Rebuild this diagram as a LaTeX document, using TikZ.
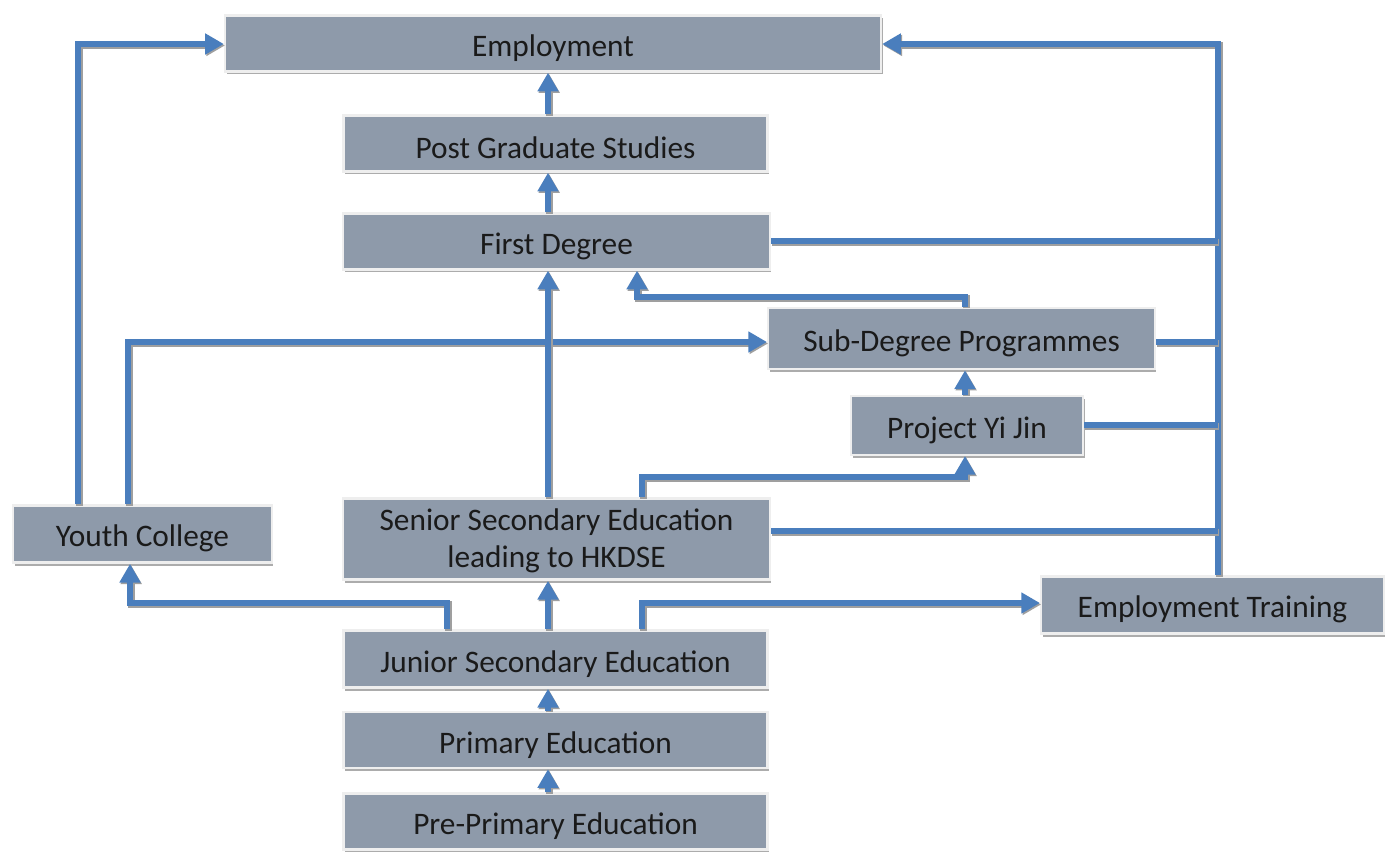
\documentclass[tikz,border=0pt]{standalone}
\usepackage{fontspec}
\setmainfont{Carlito}
\usetikzlibrary{arrows.meta,calc}
\definecolor{boxfill}{HTML}{8E9AAA}
\definecolor{boxedge}{HTML}{EEEEEE}
\definecolor{arrblue}{HTML}{4A7EBD}
\definecolor{txt}{HTML}{1A1A1A}
\newcommand{\lowtxt}[1]{\raisebox{-3.5pt}[\height][\depth]{#1}}
\begin{document}
\begin{tikzpicture}[x=0.75pt,y=-0.75pt,
  box/.style={fill=boxfill,draw=boxedge,line width=1.8pt,text=txt,font=\fontsize{23.5}{26.5}\selectfont,
     align=center,inner sep=0pt,
     preaction={fill=gray!65,transform canvas={shift={(1.2pt,-2.2pt)}}}},
  link/.style={draw=arrblue,line width=5.2pt,
     preaction={draw=gray!75,line width=5.2pt,transform canvas={shift={(0.9pt,-1.1pt)}}}},
  arr/.style={link,-{Triangle[length=14pt,width=15pt]}}]
\useasboundingbox (0,0) rectangle (1386,852);
\fill[white] (0,0) rectangle (1386,852);
% boxes
\node[box,minimum width=492pt,minimum height=42pt] (emp) at (553,43.5) {\lowtxt{Employment}};
\node[box,minimum width=318pt,minimum height=42pt] (pg) at (555.5,143.5) {\lowtxt{Post Graduate Studies}};
\node[box,minimum width=320pt,minimum height=42pt] (fd) at (556.5,241.5) {\lowtxt{First Degree}};
\node[box,minimum width=290pt,minimum height=46pt] (sd) at (961.5,338.5) {\lowtxt{Sub-Degree Programmes}};
\node[box,minimum width=174pt,minimum height=44pt] (yj) at (967,425.5) {\lowtxt{Project Yi Jin}};
\node[box,minimum width=194pt,minimum height=43pt] (yc) at (142.5,534) {\lowtxt{Youth College}};
\node[box,minimum width=320pt,minimum height=61pt] (ss) at (556.5,539) {\raisebox{-2.2pt}[\height][\depth]{\begin{tabular}{@{}c@{}}Senior Secondary Education\\[1pt]leading to HKDSE\end{tabular}}};
\node[box,minimum width=257pt,minimum height=43pt] (et) at (1212.5,605) {\lowtxt{Employment Training}};
\node[box,minimum width=318pt,minimum height=43pt] (js) at (555.5,659) {\lowtxt{Junior Secondary Education}};
\node[box,minimum width=318pt,minimum height=42pt] (pr) at (555.5,740) {\lowtxt{Primary Education}};
\node[box,minimum width=318pt,minimum height=42pt] (pp) at (555.5,821.5) {\lowtxt{Pre-Primary Education}};
% bus
\coordinate (bustop) at (1218,44);
% connectors
\draw[arr] (78,0 |- yc.north) -- (78,44) -- (emp.west |- 0,44);
\draw[arr] (128,0 |- yc.north) -- (128,342) -- (sd.west |- 0,342);
\draw[arr] (447,0 |- js.north) -- (447,603) -- (130,603) -- (130,0 |- yc.south);
\draw[arr] (548,0 |- js.north) -- (548,0 |- ss.south);
\draw[arr] (642,0 |- js.north) -- (642,603) -- (et.west |- 0,603);
\draw[arr] (548,0 |- ss.north) -- (548,0 |- fd.south);
\draw[arr] (642,0 |- ss.north) -- (642,477) -- (965,477) -- (965,0 |- yj.south);
\draw[arr] (965,0 |- yj.north) -- (965,0 |- sd.south);
\draw[arr] (965,0 |- sd.north) -- (965,297) -- (637,297) -- (637,0 |- fd.south);
\draw[arr] (548,0 |- fd.north) -- (548,0 |- pg.south);
\draw[arr] (548,0 |- pg.north) -- (548,0 |- emp.south);
\draw[arr] (548,0 |- pr.north) -- (548,0 |- js.south);
\draw[arr] (548,0 |- pp.north) -- (548,0 |- pr.south);
\draw[arr] (1218,0 |- et.north) -- (bustop) -- (emp.east |- bustop);
\draw[link] (fd.east |- 0,241) -- (1218,241);
\draw[link] (sd.east |- 0,342) -- (1218,342);
\draw[link] (yj.east |- 0,425) -- (1218,425);
\draw[link] (ss.east |- 0,531) -- (1218,531);
\end{tikzpicture}
\end{document}
